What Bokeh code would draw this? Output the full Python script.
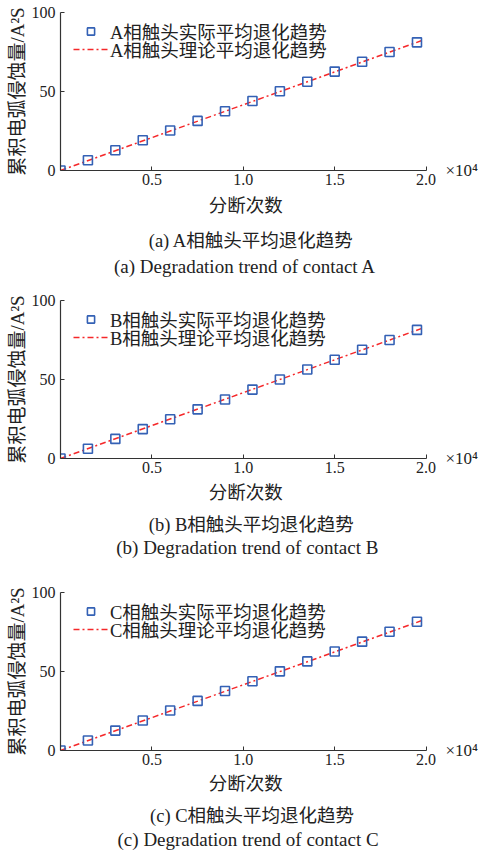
from bokeh.plotting import figure
from bokeh.layouts import column
from bokeh.models import (Range1d, FixedTicker, Label, Legend, LegendItem,
                          LinearAxis)
from bokeh.embed import file_html
from bokeh.resources import INLINE

# Number of breaking operations (x axis, labelled in units of 1e4)
break_counts = [0, 1500, 3000, 4500, 6000, 7500, 9000, 10500,
                12000, 13500, 15000, 16500, 18000, 19500]

# Measured average cumulative arc erosion per phase (A^2 S)
erosion_a = [0, 6.5, 12.8, 19.1, 25.3, 31.4, 37.5, 44.0, 50.2, 56.2, 62.6, 68.8, 75.0, 81.1]
erosion_b = [0, 6.2, 12.4, 18.6, 24.8, 31.1, 37.3, 43.6, 50.0, 56.3, 62.5, 68.8, 75.0, 81.4]
erosion_c = [0, 6.3, 12.6, 19.0, 25.3, 31.4, 37.7, 43.8, 50.1, 56.4, 62.7, 68.9, 75.2, 81.5]

# Theoretical average degradation line (end points)
theory_counts = [0, 19900]
theory_a = [0, 82.8]
theory_b = [0, 82.9]
theory_c = [0, 82.8]

x_ticks = [5000, 10000, 15000, 20000]
x_tick_labels = ["0.5", "1.0", "1.5", "2.0"]
y_ticks = [0, 50, 100]
x_scale_label = "×10⁴"

SERIF = "'Liberation Serif', 'Noto Sans CJK SC'"
BLUE = "#3461b5"
RED = "#f5282a"
INK = "#222222"
AXIS = "#333333"

PLOT_H = 194
FRAME_TOP = 12
FRAME_H = 158
FRAME_LEFT = 60
FRAME_RIGHT_GAP = 37


def chart(phase, actual, theory):
    # frame spans 0..2.0e4 plus a little room on the right
    x_end = 20000 * (481 - FRAME_RIGHT_GAP - FRAME_LEFT) / 373.4
    p = figure(width=481, height=PLOT_H, output_backend="svg",
               toolbar_location=None,
               x_range=Range1d(0, x_end), y_range=Range1d(0, 100),
               min_border_left=FRAME_LEFT, min_border_right=FRAME_RIGHT_GAP,
               min_border_top=FRAME_TOP,
               min_border_bottom=PLOT_H - FRAME_TOP - FRAME_H)
    p.outline_line_color = None
    p.grid.visible = False

    for ax in (p.xaxis, p.yaxis):
        ax.axis_line_color = AXIS
        ax.axis_line_width = 1.2
        ax.major_tick_line_color = AXIS
        ax.major_tick_in = 4
        ax.major_tick_out = 0
        ax.minor_tick_line_color = None
        ax.major_label_text_font = SERIF
        ax.major_label_text_font_size = "16px"
        ax.major_label_text_color = INK

    p.xaxis.bounds = (0, 20000)
    p.xaxis.ticker = FixedTicker(ticks=x_ticks)
    p.xaxis.major_label_overrides = dict(zip(x_ticks, x_tick_labels))
    p.xaxis.major_label_standoff = 3

    p.yaxis.ticker = FixedTicker(ticks=y_ticks)
    p.yaxis.major_label_standoff = 5
    p.yaxis.axis_label = "累积电弧侵蚀量/A²S"
    p.yaxis.axis_label_standoff = 1
    p.yaxis.axis_label_text_font = SERIF
    p.yaxis.axis_label_text_font_size = "19px"
    p.yaxis.axis_label_text_font_style = "normal"
    p.yaxis.axis_label_text_color = INK

    # exponent of the x axis, shown at the axis level on the right
    scale_axis = LinearAxis(ticker=FixedTicker(ticks=[0]),
                            major_label_overrides={0: x_scale_label},
                            axis_line_color=None, major_tick_line_color=None,
                            minor_tick_line_color=None,
                            major_label_standoff=3)
    scale_axis.major_label_text_font = SERIF
    scale_axis.major_label_text_font_size = "17px"
    scale_axis.major_label_text_color = INK
    p.add_layout(scale_axis, "right")

    line = p.line(theory_counts, theory, line_color=RED, line_width=1.5,
                  line_dash="6 3 2 3")
    pts = p.scatter(break_counts, actual, marker="square", size=9,
                    fill_color=None, line_color=BLUE, line_width=1.6)

    # one legend per row so that each row can be placed on its own
    rows = [(pts, f"{phase}相触头实际平均退化趋势", 126),
            (line, f"{phase}相触头理论平均退化趋势", 108)]
    for rend, text, vy in rows:
        lg = Legend(items=[LegendItem(label=text, renderers=[rend])],
                    location=(13, vy), margin=0, padding=0, spacing=0,
                    glyph_width=35, glyph_height=18, label_height=18,
                    label_standoff=2, border_line_color=None,
                    background_fill_alpha=0,
                    label_text_font=SERIF, label_text_font_size="18.5px",
                    label_text_color=INK)
        p.add_layout(lg, "center")
    return p


def captions(phase, letter, height, rows):
    # caption strip under each chart: x and y in pixels from its top-left
    c = figure(width=481, height=height, output_backend="svg",
               toolbar_location=None, x_axis_location=None,
               y_axis_location=None,
               x_range=Range1d(0, 481), y_range=Range1d(height, 0),
               min_border=0)
    c.outline_line_color = None
    c.grid.visible = False
    texts = ["分断次数",
             f"({letter}) {phase}相触头平均退化趋势",
             f"({letter}) Degradation trend of contact {phase}"]
    sizes = ["18.5px", "18.5px", "19px"]
    for text, size, (x, y) in zip(texts, sizes, rows):
        c.add_layout(Label(x=x, y=y, text=text, text_align="center",
                           text_baseline="middle", text_font=SERIF,
                           text_font_size=size, text_color=INK))
    return c


layout = column(
    chart("A", erosion_a, theory_a),
    captions("A", "a", 94, [(237, 11), (244, 46), (236, 72)]),
    chart("B", erosion_b, theory_b),
    captions("B", "b", 98, [(237, 10), (244, 42), (239, 65)]),
    chart("C", erosion_c, theory_c),
    captions("C", "c", 77, [(237, 9), (245, 41), (240, 65)]),
    spacing=0,
)
open("out.html", "w").write(file_html(layout, INLINE))
